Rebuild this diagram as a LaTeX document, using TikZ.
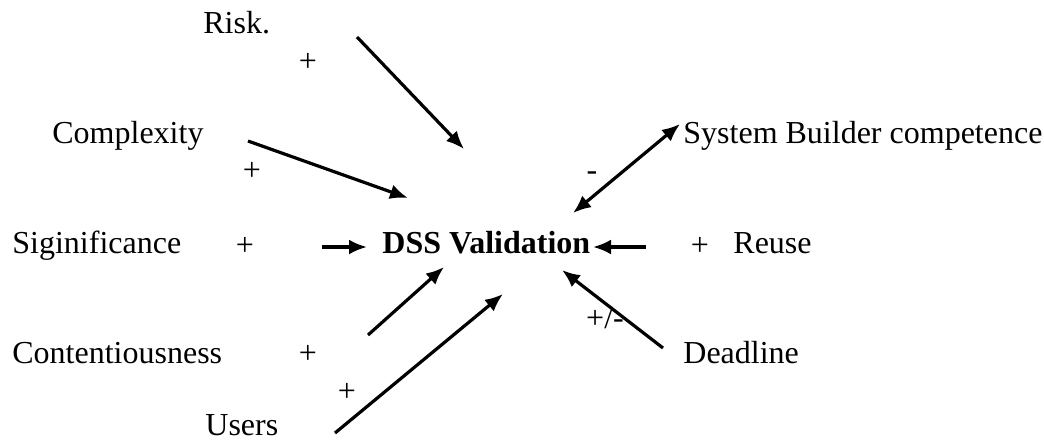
\documentclass[tikz,border=0pt]{standalone}
\usepackage{fontspec}
\setmainfont{Liberation Serif}
\usetikzlibrary{arrows.meta,positioning}
\tikzset{
    factor/.style={
        inner sep=0pt, anchor=base west,
        font=\fontsize{16}{19}\selectfont
    },
    sign/.style={
        inner sep=0pt, anchor=base,
        font=\fontsize{16}{19}\selectfont
    },
    connector/.style={
        line width=1.6pt,
        -{Latex[length=9pt,width=7.5pt]}
    },
    both connector/.style={
        connector,
        {Latex[length=9pt,width=7.5pt]}-{Latex[length=9pt,width=7.5pt]}
    }
}

\begin{document}
\begin{tikzpicture}[x=0.5pt,y=-0.5pt]
    \useasboundingbox (0,0) rectangle (1044,441);
    % factors
    \node[factor] (risk) at (203,33) {Risk.};
    \node[factor] (complexity) at (52,143) {Complexity};
    \node[factor] (significance) at (12,253) {Siginificance};
    \node[factor] (contention) at (12,363) {Contentiousness};
    \node[factor] (users) at (205,435) {Users};
    \node[factor] (builder) at (683,143) {System Builder competence};
    \node[factor] (reuse) at (733,253) {Reuse};
    \node[factor] (deadline) at (683,363) {Deadline};
    \node[factor, font=\fontsize{16}{19}\selectfont\bfseries] (dss) at (382,253) {DSS Validation};
    % signs
    \node[sign] (s-risk) at (308,71) {+};
    \node[sign] (s-complexity) at (252,180) {+};
    \node[sign] (s-significance) at (245,255) {+};
    \node[sign] (s-contention) at (308,363) {+};
    \node[sign] (s-users) at (347,401) {+};
    \node[sign] (s-builder) at (592,180) {-};
    \node[sign] (s-reuse) at (700,255) {+};
    \node[sign] (s-deadline) at (605,328) {+/-};
    % arrow ends
    \coordinate (risk-a) at (357,37);       \coordinate (risk-b) at (464,149);
    \coordinate (complexity-a) at (248,141); \coordinate (complexity-b) at (408,198);
    \coordinate (significance-a) at (322,247); \coordinate (significance-b) at (367,247);
    \coordinate (contention-a) at (368,335); \coordinate (contention-b) at (444,267);
    \coordinate (users-a) at (335,433);     \coordinate (users-b) at (503,294);
    \coordinate (builder-a) at (680,124);   \coordinate (builder-b) at (573,213);
    \coordinate (reuse-a) at (646,247);     \coordinate (reuse-b) at (593,247);
    \coordinate (deadline-a) at (663,348);  \coordinate (deadline-b) at (562,270);
    % connectors
    \draw[connector] (risk-a) -- (risk-b);
    \draw[connector] (complexity-a) -- (complexity-b);
    \draw[connector] (significance-a) -- (significance-b);
    \draw[connector] (contention-a) -- (contention-b);
    \draw[connector] (users-a) -- (users-b);
    \draw[both connector] (builder-a) -- (builder-b);
    \draw[connector] (reuse-a) -- (reuse-b);
    \draw[connector] (deadline-a) -- (deadline-b);
\end{tikzpicture}
\end{document}
